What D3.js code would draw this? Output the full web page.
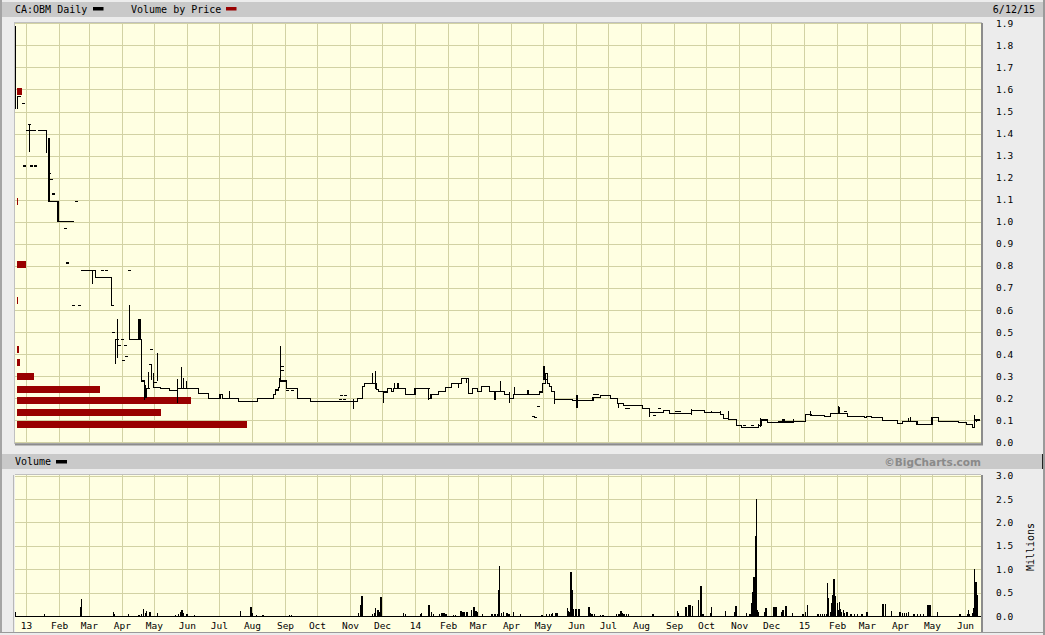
<!DOCTYPE html>
<html><head><meta charset="utf-8">
<script src="https://cdn.jsdelivr.net/npm/d3@7/dist/d3.min.js"></script>
<style>
body{margin:0;background:#ececec;}
svg{display:block;font-family:"DejaVu Sans Mono",monospace;}
</style></head><body>
<svg id="c" width="1045" height="635"></svg>
<script>
// ---------- DATA ----------
const symbol = "CA:OBM Daily";
const lastDate = "6/12/15";
const monthLabels = ["13","Feb","Mar","Apr","May","Jun","Jul","Aug","Sep","Oct","Nov","Dec",
  "14","Feb","Mar","Apr","May","Jun","Jul","Aug","Sep","Oct","Nov","Dec",
  "15","Feb","Mar","Apr","May","Jun"];
const priceTicks = [0,0.1,0.2,0.3,0.4,0.5,0.6,0.7,0.8,0.9,1.0,1.1,1.2,1.3,1.4,1.5,1.6,1.7,1.8,1.9];
const volumeTicks = [0,0.5,1.0,1.5,2.0,2.5,3.0];

// price path (close, stepped); null = no trading gap
const stepDates = ["2012-12-24","2012-12-27","2012-12-27","2013-01-01","2013-01-10","2013-01-10",
 "2013-01-12","2013-01-20","2013-01-21","2013-01-21","2013-01-22","2013-01-23","2013-01-31","2013-02-15","2013-02-15",
 "2013-02-22","2013-03-07","2013-03-22","2013-03-25","2013-03-25","2013-03-26","2013-03-29","2013-03-29",
 "2013-04-08","2013-04-19","2013-04-22","2013-04-24","2013-04-27","2013-04-27",
 "2013-05-01","2013-05-07","2013-05-16","2013-05-23","2013-06-12","2013-06-21","2013-07-02","2013-07-04",
 "2013-07-19","2013-08-06","2013-08-21","2013-08-23","2013-08-26","2013-08-27","2013-08-28","2013-09-02",
 "2013-09-13","2013-09-25","2013-11-08","2013-11-13","2013-11-15","2013-11-26","2013-11-28","2013-12-02",
 "2013-12-06","2013-12-10","2013-12-12","2013-12-23","2014-01-01","2014-01-14","2014-01-16","2014-01-23",
 "2014-01-30","2014-02-04","2014-02-14","2014-02-20","2014-02-24","2014-03-01","2014-03-04","2014-03-12",
 "2014-03-26","2014-03-31","2014-04-03","2014-04-28","2014-05-01","2014-05-03","2014-05-05","2014-05-07",
 "2014-05-09","2014-05-12","2014-05-29","2014-06-17","2014-06-24","2014-07-03","2014-07-10","2014-07-16",
 "2014-08-02","2014-08-09","2014-08-22","2014-08-28","2014-09-17","2014-09-30","2014-10-15","2014-10-17",
 "2014-10-22","2014-10-30","2014-11-03","2014-11-19","2014-11-22","2014-11-28","2014-12-08","2014-12-22",
 "2015-01-02","2015-01-08","2015-01-20","2015-01-26","2015-02-11","2015-02-23","2015-02-27","2015-03-01",
 "2015-03-05","2015-03-16","2015-03-30","2015-04-03","2015-04-17","2015-05-01","2015-05-07","2015-05-26",
 "2015-06-02","2015-06-08","2015-06-10","2015-06-15"];
const stepClose = [1.567,1.567,null,1.412,1.412,null,
 1.412,1.315,1.315,null,1.379,1.091,1.002,1.002,null,
 0.781,0.748,0.621,0.621,null,0.467,0.467,null,
 0.467,0.278,0.205,0.246,0.246,null,
 0.25,0.246,0.233,0.246,0.222,0.2,0.215,0.2,
 0.184,0.2,0.215,0.237,0.25,0.287,0.278,0.245,
 0.2,0.184,0.2,0.252,0.268,0.24,0.23,0.228,
 0.245,0.23,0.245,0.215,0.245,0.2,0.215,0.23,
 0.248,0.268,0.29,0.22,0.245,0.23,0.255,0.23,
 0.215,0.2,0.215,0.228,0.268,0.313,0.268,0.252,
 0.23,0.195,0.19,0.205,0.212,0.198,0.174,0.165,
 0.154,0.134,0.143,0.131,0.143,0.134,0.125,0.109,
 0.104,0.078,0.068,0.078,0.101,0.089,0.092,0.096,
 0.125,0.12,0.117,0.131,0.116,0.117,0.112,0.117,
 0.112,0.1,0.086,0.094,0.082,0.112,0.094,0.089,
 0.079,0.066,0.101,0.101];

// daily high-low ranges
const rangeDates = ["2012-12-22","2012-12-24","2013-01-04","2013-01-22","2013-01-23","2013-03-04","2013-03-26",
 "2013-03-28","2013-04-08","2013-04-17","2013-04-18","2013-04-22","2013-04-23","2013-04-26","2013-04-29",
 "2013-05-01","2013-05-04","2013-05-23","2013-05-27","2013-05-29","2013-06-01","2013-07-11","2013-08-28",
 "2013-11-04","2013-11-22","2013-11-25","2013-12-02","2013-12-13","2013-12-16","2014-01-14","2014-02-11",
 "2014-02-18","2014-03-17","2014-03-22","2014-03-31","2014-04-04","2014-04-17","2014-05-02","2014-05-12",
 "2014-06-02","2014-07-11","2014-08-09","2014-09-17","2014-10-06","2014-10-15","2014-10-22","2014-11-19",
 "2014-11-21","2014-12-22","2015-01-02","2015-01-07","2015-02-02","2015-02-03","2015-04-09","2015-04-11",
 "2015-05-01","2015-06-10","2015-06-12"];
const rangeLow = [1.51,1.51,1.315,1.091,1.091,0.717,0.354,
 0.381,0.467,0.467,0.467,0.19,0.2,0.246,0.283,
 0.246,0.278,0.18,0.246,0.246,0.246,0.2,0.278,
 0.15,0.268,0.24,0.18,0.245,0.245,0.19,0.248,
 0.268,0.19,0.228,0.18,0.215,0.215,0.283,0.174,
 0.156,0.154,0.113,0.125,0.134,0.125,0.1,0.063,
 0.07,0.09,0.096,0.12,0.131,0.131,0.09,0.094,
 0.082,0.066,0.09];
const rangeHigh = [1.89,1.567,1.442,1.379,1.379,0.781,0.468,
 0.559,0.623,0.56,0.56,0.278,0.26,0.32,0.354,
 0.316,0.404,0.287,0.343,0.29,0.28,0.233,0.438,
 0.195,0.313,0.323,0.228,0.268,0.268,0.215,0.268,
 0.29,0.23,0.278,0.228,0.252,0.238,0.346,0.228,
 0.215,0.18,0.154,0.15,0.143,0.143,0.143,0.085,
 0.11,0.105,0.125,0.14,0.165,0.16,0.11,0.116,
 0.112,0.125,0.101];

// isolated single-day trades
const tickDates = ["2012-12-29","2012-12-30","2013-01-06","2013-01-09","2013-01-04","2013-01-23","2013-01-24",
 "2013-01-26","2013-02-07","2013-02-08","2013-02-14","2013-02-17","2013-02-20","2013-03-13","2013-03-17",
 "2013-04-08","2013-03-24","2013-03-29","2013-04-04","2013-04-01","2013-04-02","2013-04-05","2013-04-28",
 "2013-04-27","2013-05-02","2013-08-29","2013-08-29","2013-09-03","2013-09-08","2013-10-23","2013-10-26",
 "2013-10-24","2013-10-27","2014-01-13","2014-04-22","2014-04-24","2014-04-26","2014-05-03","2014-06-18",
 "2014-06-21","2014-07-18","2014-07-20","2014-08-13","2014-08-18","2014-09-03","2014-09-06","2014-11-06",
 "2014-11-13","2014-12-12","2014-12-16","2015-02-08"];
const tickPrice = [1.537,1.253,1.253,1.253,1.442,1.22,1.19,
 1.126,0.97,0.813,0.621,1.091,0.621,0.781,0.781,
 0.781,0.499,0.437,0.437,0.467,0.369,0.388,0.419,
 0.354,0.27,0.343,0.325,0.233,0.233,0.195,0.195,
 0.213,0.213,0.245,0.116,0.112,0.161,0.283,0.215,
 0.215,0.154,0.154,0.12,0.154,0.14,0.14,0.078,
 0.078,0.101,0.092,0.14];

// daily volume, millions
const volDates = ["2012-12-22","2013-01-18","2013-02-21","2013-02-22","2013-03-24","2013-03-25","2013-04-07",
 "2013-04-17","2013-04-19","2013-04-21","2013-04-23","2013-04-24","2013-04-27","2013-05-04","2013-05-21",
 "2013-05-24","2013-05-26","2013-05-27","2013-05-28","2013-06-01","2013-06-08","2013-07-21","2013-07-31",
 "2013-08-01","2013-08-05","2013-08-11","2013-09-05","2013-09-07","2013-11-09","2013-11-11","2013-11-12",
 "2013-11-22","2013-11-24","2013-11-25","2013-11-27","2013-11-28","2013-11-29","2013-11-30","2013-12-21",
 "2013-12-23","2014-01-06","2014-01-07","2014-01-14","2014-01-16","2014-01-18","2014-01-24","2014-01-26",
 "2014-01-28","2014-01-30","2014-02-06","2014-02-08","2014-02-13","2014-02-15","2014-02-16","2014-02-18",
 "2014-02-19","2014-02-23","2014-02-25","2014-02-27","2014-02-28","2014-03-05","2014-03-14","2014-03-17",
 "2014-03-19","2014-03-20","2014-03-21","2014-03-23","2014-03-25","2014-03-28","2014-03-30","2014-04-03",
 "2014-04-10","2014-04-30","2014-05-04","2014-05-07","2014-05-09","2014-05-10","2014-05-13","2014-05-14",
 "2014-05-24","2014-05-25","2014-05-26","2014-05-27","2014-05-28","2014-05-29","2014-06-01","2014-06-03",
 "2014-06-04","2014-06-13","2014-06-14","2014-06-16","2014-06-18","2014-06-24","2014-06-26","2014-07-09",
 "2014-07-11","2014-07-13","2014-07-14","2014-07-16","2014-07-18","2014-07-20","2014-08-12","2014-09-04",
 "2014-09-05","2014-09-12","2014-09-15","2014-09-16","2014-09-18","2014-09-24","2014-09-26","2014-09-28",
 "2014-10-05","2014-10-06","2014-10-19","2014-10-28","2014-10-29","2014-11-08","2014-11-11","2014-11-13",
 "2014-11-14","2014-11-15","2014-11-16","2014-11-17","2014-11-18","2014-11-19","2014-11-25","2014-11-26",
 "2014-12-03","2014-12-04","2014-12-05","2014-12-06","2014-12-11","2014-12-12","2014-12-15","2014-12-21",
 "2014-12-31","2015-01-02","2015-01-04","2015-01-14","2015-01-16","2015-01-18","2015-01-20","2015-01-22",
 "2015-01-23","2015-01-24","2015-01-26","2015-01-27","2015-01-28","2015-01-29","2015-01-30","2015-02-01",
 "2015-02-02","2015-02-03","2015-02-04","2015-02-05","2015-02-07","2015-02-08","2015-02-10","2015-02-14",
 "2015-02-17","2015-02-20","2015-02-24","2015-03-01","2015-03-16","2015-03-18","2015-03-24","2015-04-01",
 "2015-04-03","2015-04-05","2015-04-07","2015-04-09","2015-04-14","2015-04-17","2015-04-20","2015-04-23",
 "2015-04-27","2015-04-29","2015-05-06","2015-05-27","2015-06-03","2015-06-04","2015-06-05","2015-06-08",
 "2015-06-09","2015-06-10","2015-06-11","2015-06-12"];
const volValues = [0.09,0.04,0.2,0.37,0.09,0.04,0.05,
 0.03,0.04,0.16,0.06,0.11,0.085,0.07,0.03,
 0.04,0.09,0.135,0.07,0.04,0.03,0.11,0.2,
 0.07,0.03,0.03,0.03,0.03,0.06,0.235,0.43,
 0.04,0.07,0.18,0.13,0.04,0.09,0.41,0.065,
 0.05,0.05,0.06,0.24,0.09,0.04,0.04,0.06,
 0.06,0.05,0.03,0.03,0.11,0.08,0.08,0.08,
 0.09,0.13,0.19,0.11,0.08,0.04,0.05,0.04,
 0.05,0.556,1.07,0.07,0.09,0.07,0.04,0.08,
 0.05,0.03,0.04,0.05,0.04,0.06,0.06,0.06,
 0.18,0.11,0.09,0.95,0.556,0.16,0.16,0.16,
 0.16,0.2,0.07,0.04,0.04,0.03,0.03,0.04,
 0.05,0.107,0.07,0.05,0.05,0.04,0.04,0.107,
 0.06,0.2,0.235,0.235,0.22,0.34,0.64,0.04,
 0.07,0.19,0.107,0.09,0.21,0.07,0.04,0.27,
 0.52,0.84,1.7,2.51,0.13,0.09,0.09,0.18,
 0.2,0.2,0.2,0.2,0.09,0.13,0.21,0.06,
 0.04,0.09,0.235,0.04,0.04,0.04,0.04,0.04,
 0.71,0.38,0.09,0.27,0.45,0.8,0.43,0.27,
 0.13,0.3,0.16,0.09,0.13,0.07,0.09,0.05,
 0.04,0.04,0.05,0.09,0.25,0.25,0.11,0.09,
 0.07,0.06,0.07,0.09,0.04,0.04,0.04,0.04,
 0.235,0.235,0.09,0.04,0.04,0.13,0.04,0.06,
 0.18,1.0,0.73,0.45];

// volume by price (price bucket centre, relative volume)
const vbpPrice = [1.593,1.09,0.808,0.641,0.42,0.36,0.30,0.24,0.19,0.134,0.081];
const vbpVolume = [0.45,0.1,0.93,0.1,0.2,0.3,1.7,8.3,17.4,14.4,23.0];

// ---------- DRAW ----------
const parse = d3.timeParse("%Y-%m-%d");
const svg = d3.select("#c");
const CREAM = "#ffffe2", GRID = "#d2d2a4", BAR = "#c9c9c9";
const P = {l:15, r:981, t:23, b:443};
const V = {t:475, b:616};

const x = d3.scaleTime().domain([parse("2013-01-01"), parse("2015-06-01")]).range([26, 965]);
const yP = d3.scaleLinear().domain([0,1.9]).range([442.3, 23.3]);
const yV = d3.scaleLinear().domain([0,3]).range([616, 475.7]);
const vbpX = d3.scaleLinear().domain([0, d3.max(vbpVolume)]).range([0, 230]);
const monthStarts = d3.timeMonth.range(parse("2013-01-01"), parse("2015-06-02"));

// frame & bars
svg.append("rect").attr("x",0).attr("y",0).attr("width",1045).attr("height",635).attr("fill","#ececec");
svg.append("rect").attr("x",0).attr("y",0).attr("width",2).attr("height",633).attr("fill","#a4a4a4");
svg.append("rect").attr("x",2).attr("y",2).attr("width",1041).attr("height",15).attr("fill",BAR);
svg.append("rect").attr("x",2).attr("y",454).attr("width",1041).attr("height",15).attr("fill",BAR);
svg.append("rect").attr("x",1042).attr("y",454).attr("width",3).attr("height",15).attr("fill","#222");
svg.append("rect").attr("x",1043).attr("y",0).attr("width",2).attr("height",635).attr("fill","#9a9a9a");
svg.append("rect").attr("x",0).attr("y",632).attr("width",1045).attr("height",1).attr("fill","#9a9a9a");

// plot backgrounds
svg.append("rect").attr("x",P.l).attr("y",P.t).attr("width",P.r-P.l).attr("height",P.b-P.t).attr("fill",CREAM);
svg.append("rect").attr("x",P.l).attr("y",V.t).attr("width",P.r-P.l).attr("height",632-V.t).attr("fill",CREAM);

const defs = svg.append("defs");
defs.append("clipPath").attr("id","cp").append("rect").attr("x",P.l).attr("y",P.t-1).attr("width",P.r-P.l).attr("height",P.b-P.t+1);
defs.append("clipPath").attr("id","cv").append("rect").attr("x",P.l).attr("y",V.t).attr("width",P.r-P.l).attr("height",V.b-V.t+1);

// grids via axes
function grid(g){ g.selectAll("line").attr("stroke",GRID).attr("shape-rendering","crispEdges"); g.select(".domain").remove(); g.selectAll("text").remove(); }
svg.append("g").attr("transform",`translate(0,${P.b})`)
  .call(d3.axisBottom(x).tickValues(monthStarts).tickSize(-(P.b-P.t)).tickFormat("")).call(grid);
svg.append("g").attr("transform",`translate(0,${V.b})`)
  .call(d3.axisBottom(x).tickValues(monthStarts).tickSize(-(V.b-V.t)).tickFormat("")).call(grid);
svg.append("g").attr("transform",`translate(${P.l},0)`)
  .call(d3.axisRight(yP).tickValues(priceTicks).tickSize(P.r-P.l).tickFormat("")).call(grid);
svg.append("g").attr("transform",`translate(${P.l},0)`)
  .call(d3.axisRight(yV).tickValues(volumeTicks).tickSize(P.r-P.l).tickFormat("")).call(grid);

// plot frames
svg.append("rect").attr("x",P.l-0.5).attr("y",P.t-0.5).attr("width",P.r-P.l+1).attr("height",P.b-P.t+1)
  .attr("fill","none").attr("stroke","#c0c0c0");
svg.append("line").attr("x1",P.l).attr("x2",P.r+2).attr("y1",P.b+1.5).attr("y2",P.b+1.5).attr("stroke","#8c8c8c").attr("stroke-width",2);
svg.append("line").attr("x1",P.r+1).attr("x2",P.r+1).attr("y1",P.t).attr("y2",P.b+2).attr("stroke","#8c8c8c").attr("stroke-width",2);
svg.append("line").attr("x1",P.l-1.5).attr("x2",P.l-1.5).attr("y1",V.t).attr("y2",632).attr("stroke","#b8b8b8");
svg.append("line").attr("x1",P.l).attr("x2",P.r).attr("y1",V.t-0.5).attr("y2",V.t-0.5).attr("stroke","#c0c0c0");
svg.append("line").attr("x1",P.r+1).attr("x2",P.r+1).attr("y1",V.t).attr("y2",632).attr("stroke","#8c8c8c").attr("stroke-width",2);

// volume by price
const pg = svg.append("g").attr("clip-path","url(#cp)");
pg.selectAll("rect.vbp").data(vbpPrice.map((p,i)=>({p, v:vbpVolume[i]}))).join("rect")
  .attr("class","vbp").attr("x",P.l+2).attr("y",d=>yP(d.p)-3.5).attr("height",7)
  .attr("width",d=>Math.max(1,vbpX(d.v))).attr("fill","#990000").attr("shape-rendering","crispEdges");

// price series
const steps = stepDates.map((d,i)=>({date:parse(d), close:stepClose[i]}));
const line = d3.line().defined(d=>d.close!==null).x(d=>x(d.date)).y(d=>yP(d.close)).curve(d3.curveStepAfter);
pg.append("path").datum(steps).attr("d",line).attr("fill","none").attr("stroke","#000")
  .attr("stroke-width",1.1).attr("shape-rendering","crispEdges");
pg.selectAll("line.rng").data(rangeDates.map((d,i)=>({date:parse(d), lo:rangeLow[i], hi:rangeHigh[i]}))).join("line")
  .attr("class","rng").attr("x1",d=>x(d.date)).attr("x2",d=>x(d.date))
  .attr("y1",d=>yP(d.lo)).attr("y2",d=>yP(d.hi)).attr("stroke","#000").attr("stroke-width",1.1).attr("shape-rendering","crispEdges");
pg.selectAll("line.tk").data(tickDates.map((d,i)=>({date:parse(d), p:tickPrice[i]}))).join("line")
  .attr("class","tk").attr("x1",d=>x(d.date)-1).attr("x2",d=>x(d.date)+2)
  .attr("y1",d=>yP(d.p)).attr("y2",d=>yP(d.p)).attr("stroke","#000").attr("stroke-width",1.1).attr("shape-rendering","crispEdges");

// volume bars
const vg = svg.append("g").attr("clip-path","url(#cv)");
vg.append("line").attr("x1",P.l).attr("x2",P.r).attr("y1",V.b+0.5).attr("y2",V.b+0.5).attr("stroke","#000").attr("stroke-width",1.2);
vg.selectAll("rect.vb").data(volDates.map((d,i)=>({date:parse(d), v:volValues[i]}))).join("rect")
  .attr("class","vb").attr("x",d=>x(d.date)-0.5).attr("width",1.4)
  .attr("y",d=>yV(d.v)).attr("height",d=>V.b+1-yV(d.v)).attr("fill","#000").attr("shape-rendering","crispEdges");

// axes labels
function lab(g){ g.select(".domain").remove(); g.selectAll("line").remove();
  g.selectAll("text").attr("font-family","DejaVu Sans Mono, monospace").attr("font-size",9.5).attr("fill","#000"); }
svg.append("g").attr("transform","translate(992,0)")
  .call(d3.axisRight(yP).tickValues(priceTicks).tickSize(0).tickPadding(4).tickFormat(d3.format(".1f"))).call(lab);
svg.append("g").attr("transform","translate(992,0)")
  .call(d3.axisRight(yV).tickValues(volumeTicks).tickSize(0).tickPadding(4).tickFormat(d3.format(".1f"))).call(lab);
svg.append("g").attr("transform",`translate(0,${V.b})`)
  .call(d3.axisBottom(x).tickValues(monthStarts).tickSize(0).tickPadding(6).tickFormat((d,i)=>monthLabels[i])).call(lab);

svg.append("text").attr("transform","translate(1031,547) rotate(-90)").attr("text-anchor","middle")
  .attr("dominant-baseline","middle").attr("font-size",10).text("Millions");

// header legends
svg.append("text").attr("x",15).attr("y",13).attr("font-size",10).text(symbol);
svg.append("rect").attr("x",93).attr("y",7).attr("width",10.5).attr("height",3.5).attr("fill","#000");
svg.append("text").attr("x",131).attr("y",13).attr("font-size",10).text("Volume by Price");
svg.append("rect").attr("x",226).attr("y",7).attr("width",10.5).attr("height",3.5).attr("fill","#990000");
svg.append("text").attr("x",1035).attr("y",13).attr("text-anchor","end").attr("font-size",10).text(lastDate);
svg.append("text").attr("x",15).attr("y",465).attr("font-size",10).text("Volume");
svg.append("rect").attr("x",56).attr("y",460).attr("width",11).attr("height",3.5).attr("fill","#000");
svg.append("text").attr("x",981).attr("y",465.5).attr("text-anchor","end").attr("font-size",10.5)
  .attr("font-family","DejaVu Sans, sans-serif").attr("font-weight","bold").attr("fill","#8a8a8a").text("\u00A9BigCharts.com");
</script>
</body></html>
